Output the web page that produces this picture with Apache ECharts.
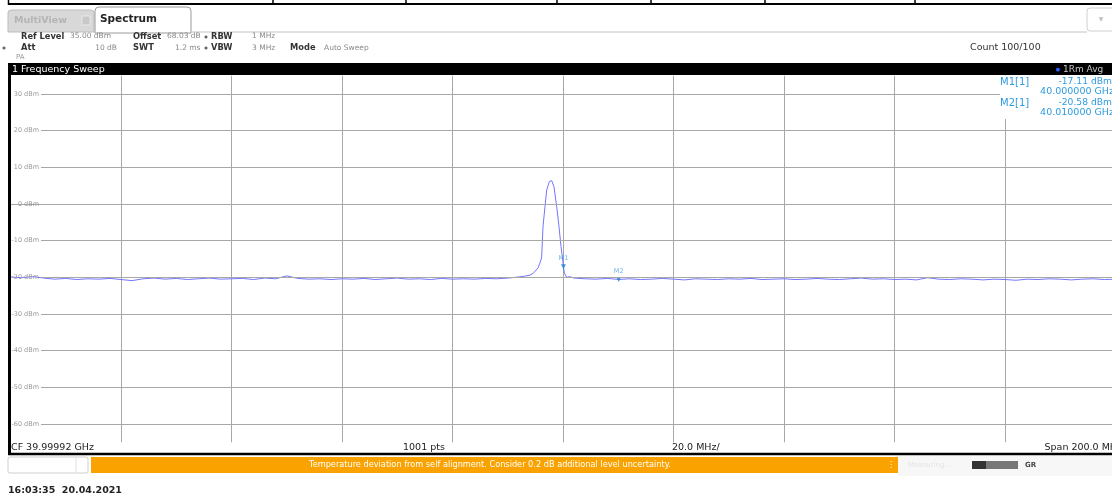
<!DOCTYPE html>
<html>
<head>
<meta charset="utf-8">
<title>Spectrum</title>
<script src="https://cdn.jsdelivr.net/npm/echarts@6/dist/echarts.min.js"></script>
<style>
html,body{margin:0;padding:0;background:#fff;}
#chart{width:1112px;height:498px;}
</style>
</head>
<body>
<div id="chart"></div>
<script>
// trace: frequency offset from CF (MHz) and level (dBm)
const freqMHz = [
  -100,-98,-96,-94,-92,-90,-88,-86,-84,-82,-80,-78,-76,-74,-72,-70,-68,-66,-64,-62,
  -60,-58,-56,-54,-52,-50,-48,-46,-44,-42,-40,-38,-36,-34,-32,-30,-28,-26,-24,-22,
  -20,-18,-16,-14,-12,-10,-8,-7,-6,-5.4,-4.5,-4.0,-3.86,-3.62,-3.26,-2.95,-2.48,-2.05,
  -1.63,-1.14,-0.72,-0.36,-0.05,0.08,0.24,0.67,1.2,2,4,6,8,10.08,12,14,16,18,20,22,24,
  26,28,30,32,34,36,38,40,42,44,46,48,50,52,54,56,58,60,62,64,66,68,70,72,74,76,78,80,
  82,84,86,88,90,92,94,96,98,100
];
const levelDbm = [
  -19.9,-20.1,-19.8,-20.2,-20.5,-20.3,-20.6,-20.4,-20.5,-20.3,-20.6,-20.9,-20.4,-20.2,-20.5,-20.3,-20.6,-20.4,-20.2,-20.5,
  -20.4,-20.3,-20.6,-20.2,-20.4,-19.6,-20.3,-20.5,-20.4,-20.6,-20.4,-20.5,-20.3,-20.6,-20.4,-20.2,-20.5,-20.4,-20.6,-20.3,
  -20.5,-20.4,-20.5,-20.3,-20.4,-20.2,-19.9,-19.7,-19.4,-18.9,-17.4,-15.3,-14.4,-6.2,-0.7,3.8,6.1,6.4,
  4.7,-0.7,-6.2,-11.6,-15.3,-17.11,-18.8,-20.0,-19.8,-20.2,-20.4,-20.5,-20.3,-20.58,-20.4,-20.6,-20.5,-20.3,-20.5,-20.7,-20.4,
  -20.5,-20.6,-20.4,-20.5,-20.3,-20.6,-20.5,-20.4,-20.6,-20.5,-20.3,-20.5,-20.6,-20.4,-20.2,-20.5,-20.4,-20.6,-20.5,-20.7,-20.1,-20.5,-20.6,-20.4,-20.5,-20.7,-20.5,-20.6,
  -20.8,-20.5,-20.6,-20.4,-20.5,-20.7,-20.5,-20.4,-20.6,-20.5
];
const levelTicks = [30, 20, 10, 0, -10, -20, -30, -40, -50, -60];
const markerNames = ['M1', 'M2'];
const markerFreq = [0.08, 10.08];
const markerLevel = [-17.11, -20.58];
const markerFreqText = ['40.000000 GHz', '40.010000 GHz'];

const FONT = 'DejaVu Sans';
const chart = echarts.init(document.getElementById('chart'));

function txt(x, y, s, o) {
  o = o || {};
  return {
    type: 'text', x: x, y: y, z: 100,
    style: {
      text: s, fill: o.color || '#333', font: (o.bold ? 'bold ' : '') + (o.size || 8) + 'px "' + FONT + '"',
      align: o.align || 'left', verticalAlign: 'middle'
    }
  };
}
function line(x1, y1, x2, y2, c, w) {
  return { type: 'line', z: 100, shape: { x1: x1, y1: y1, x2: x2, y2: y2 }, style: { stroke: c, lineWidth: w || 1 } };
}
function rect(x, y, w, h, fill, stroke, r) {
  return { type: 'rect', z: 99, shape: { x: x, y: y, width: w, height: h, r: r || 0 }, style: { fill: fill, stroke: stroke || null } };
}

const dark = '#333', grey = '#8a8a8a', mk = '#2e9be0';
const graphics = [
  // window frame on top
  line(8, 4, 1112, 4, '#000', 2),
  line(8.5, 0, 8.5, 5, '#000', 1.5), line(273, 0, 273, 5, '#000', 1.5), line(406, 0, 406, 5, '#000', 1.5),
  line(557, 0, 557, 5, '#000', 1.5), line(651, 0, 651, 5, '#000', 1.5), line(765, 0, 765, 5, '#000', 1.5),
  line(915, 0, 915, 5, '#000', 1.5),
  // tabs
  rect(8, 10, 86, 22, '#d8d8d8', '#bdbdbd', [3, 3, 0, 0]),
  txt(14, 21, 'MultiView', { color: '#b4b4b4', bold: true, size: 9.5 }),
  rect(82, 16, 8, 9, '#c8c8c8', '#e8e8e8'),
  rect(95, 7, 96, 26, '#fff', '#9a9a9a', [4, 4, 0, 0]),
  txt(100, 19, 'Spectrum', { color: '#222', bold: true, size: 10.5 }),
  line(191, 32, 1087, 32, '#c4c4c4', 1),
  rect(1087, 8, 30, 23, '#fff', '#d0d0d0', 3),
  txt(1101, 19, '\u25BC', { color: '#c0c0c0', size: 6, align: 'center' }),
  // settings rows
  txt(21, 36.5, 'Ref Level', { bold: true, color: dark, size: 8.3 }), txt(70, 36.5, '35.00 dBm', { color: grey, size: 7.5 }),
  txt(133, 36.5, 'Offset', { bold: true, color: dark, size: 8.3 }), txt(167, 36.5, '68.03 dB', { color: grey, size: 7.5 }),
  txt(206, 36.5, '\u25CF', { color: '#666', size: 4, align: 'center' }),
  txt(211, 36.5, 'RBW', { bold: true, color: dark, size: 8.3 }), txt(252, 36.5, '1 MHz', { color: grey, size: 7.5 }),
  txt(4, 48, '\u25CF', { color: '#666', size: 4, align: 'center' }),
  txt(21, 48, 'Att', { bold: true, color: dark, size: 8.3 }), txt(117, 48, '10 dB', { color: grey, align: 'right', size: 7.5 }),
  txt(133, 48, 'SWT', { bold: true, color: dark, size: 8.3 }), txt(175, 48, '1.2 ms', { color: grey, size: 7.5 }),
  txt(206, 48, '\u25CF', { color: '#666', size: 4, align: 'center' }),
  txt(211, 48, 'VBW', { bold: true, color: dark, size: 8.3 }), txt(252, 48, '3 MHz', { color: grey, size: 7.5 }),
  txt(290, 48, 'Mode', { bold: true, color: dark, size: 8.3 }), txt(324, 48, 'Auto Sweep', { color: grey, size: 7.5 }),
  txt(16, 57, 'PA', { color: '#999', size: 7 }),
  txt(970, 48, 'Count 100/100', { color: dark, size: 9.5 }),
  // black title bar
  rect(8, 63, 1104, 12, '#000'),
  txt(12, 69.5, '1 Frequency Sweep', { color: '#fff', size: 9.5 }),
  txt(1058, 69.5, '\u25CF', { color: '#2f5bff', size: 5, align: 'center' }),
  txt(1063, 69.5, '1Rm Avg', { color: '#c8c8c8', size: 9 }),
  // left border of the diagram
  rect(8, 63, 3, 392, '#000'),
  // bottom info row
  txt(11, 447.5, 'CF 39.99992 GHz', { color: '#222', size: 9.5 }),
  txt(403, 447.5, '1001 pts', { color: '#222', size: 9.5 }),
  txt(672, 447.5, '20.0 MHz/', { color: '#222', size: 9.5 }),
  txt(1122, 447.5, 'Span 200.0 MHz', { color: '#222', align: 'right', size: 9.5 }),
  line(8, 454, 1112, 454, '#000', 2.5),
  // status bar
  rect(8, 457, 80, 16, '#fff', '#cfcfcf', 2), line(76, 458, 76, 472, '#e0e0e0', 1),
  rect(91, 457, 807, 16, '#faa300'),
  txt(490, 465, 'Temperature deviation from self alignment. Consider 0.2 dB additional level uncertainty.', { color: '#fff', size: 8.2, align: 'center' }),
  txt(891, 465, '\u22EE', { color: '#fff', size: 8, align: 'center' }),
  rect(898, 456, 214, 20, '#f7f7f7'),
  txt(908, 465, 'Measuring...', { color: '#e4e4e4', size: 7 }),
  rect(972, 461, 14, 8, '#333'), rect(986, 461, 32, 8, '#777'),
  txt(1025, 465, 'GR', { color: '#444', size: 7, bold: true }),
  // timestamp
  txt(8, 491, '16:03:35  20.04.2021', { color: '#222', bold: true, size: 9.5 }),
  // marker table
  rect(1000, 76, 112, 43, '#fff')
];
markerNames.forEach(function (n, i) {
  const y = 82 + i * 21;
  graphics.push(txt(1000, y, n + '[1]', { color: mk, size: 10 }));
  graphics.push(txt(1112, y, markerLevel[i].toFixed(2) + ' dBm', { color: mk, align: 'right', size: 9.2 }));
  graphics.push(txt(1114, y + 10, markerFreqText[i], { color: mk, align: 'right', size: 9.5 }));
});

const gridLines = levelTicks.map(function (v) {
  return [
    { x: 41, yAxis: v, label: { show: true, position: 'start', formatter: v + ' dBm' } },
    { xAxis: 100, yAxis: v }
  ];
});

chart.setOption({
  animation: false,
  backgroundColor: '#fff',
  grid: { left: 10.5, right: -3.5, top: 75.7, bottom: 55.7, outerBoundsMode: 'none' },
  xAxis: {
    type: 'value', min: -100, max: 100, interval: 20,
    axisLabel: { show: false }, axisTick: { show: false },
    axisLine: { show: true, lineStyle: { color: '#a8a8a8', width: 1 } },
    splitLine: { show: true, lineStyle: { color: '#a8a8a8', width: 1 } }
  },
  yAxis: {
    type: 'value', min: -65, max: 35,
    axisLabel: { show: false }, axisTick: { show: false }, axisLine: { show: false },
    splitLine: { show: false }
  },
  series: [
    {
      type: 'line', name: 'Trace 1',
      data: freqMHz.map(function (f, i) { return [f, levelDbm[i]]; }),
      showSymbol: false, z: 3,
      lineStyle: { color: '#7474ff', width: 1 },
      markLine: {
        silent: true, symbol: 'none', animation: false,
        lineStyle: { color: '#a8a8a8', width: 1, type: 'solid' },
        label: { color: '#9a9a9a', fontSize: 6.5, fontFamily: FONT, distance: 2 },
        data: gridLines
      }
    },
    {
      type: 'scatter', name: 'Markers', z: 4,
      data: markerFreq.map(function (f, i) { return [f, markerLevel[i]]; }),
      symbol: 'triangle', symbolRotate: 180, symbolSize: 5,
      itemStyle: { color: '#1f7fd6' },
      label: {
        show: true, position: 'top', distance: 2, color: '#4aa3e8', fontSize: 6.5, fontFamily: FONT,
        formatter: function (p) { return markerNames[p.dataIndex]; }
      }
    }
  ],
  graphic: graphics
});
</script>
</body>
</html>
